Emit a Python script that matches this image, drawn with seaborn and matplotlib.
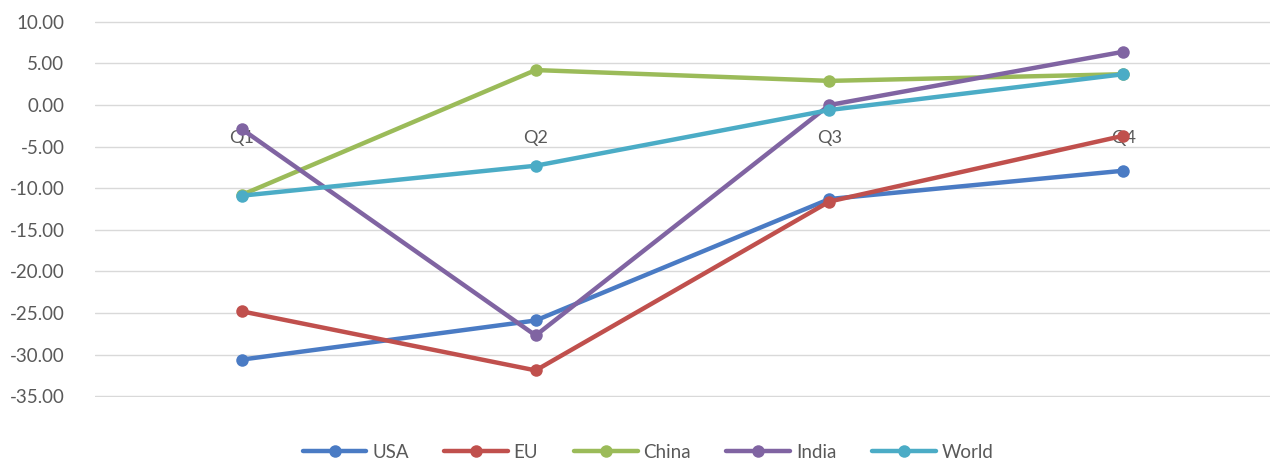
import matplotlib
matplotlib.use("Agg")
import matplotlib.pyplot as plt
import seaborn as sns
import pandas as pd
from matplotlib.lines import Line2D

quarters = ["Q1", "Q2", "Q3", "Q4"]
series_names = ["USA", "EU", "China", "India", "World"]
usa = [-30.6, -25.9, -11.3, -7.9]
eu = [-24.8, -31.9, -11.6, -3.7]
china = [-10.8, 4.2, 2.9, 3.7]
india = [-2.9, -27.7, 0.0, 6.4]
world = [-10.9, -7.3, -0.6, 3.7]
yticks = [10, 5, 0, -5, -10, -15, -20, -25, -30, -35]

colors = ["#4A7BC4", "#C0504D", "#9BBB59", "#8064A2", "#4BACC6"]

values = [usa, eu, china, india, world]
rows = []
for name, vals in zip(series_names, values):
    for i, (q, v) in enumerate(zip(quarters, vals)):
        rows.append({"pos": i, "Quarter": q, "Series": name, "Value": v})
df = pd.DataFrame(rows)

sns.set_theme(style="white")
plt.rcParams["font.family"] = ["Lato", "DejaVu Sans"]

fig = plt.figure(figsize=(12.83, 4.66), dpi=100)
ax = fig.add_axes([0.074, 0.148, 0.916, 0.807])

# category labels drawn at the zero line, beneath the lines
for i, q in enumerate(quarters):
    ax.annotate(q, xy=(i, 0), xytext=(0, -24), textcoords="offset points",
                ha="center", va="center", fontsize=13, color="#595959", zorder=1)

sns.lineplot(data=df, x="pos", y="Value", hue="Series", hue_order=series_names,
             palette=colors, marker="o", markersize=9, markeredgewidth=0,
             linewidth=3.2, ax=ax, legend=False, zorder=3)

ax.set_xlim(-0.5, 3.5)
ax.set_ylim(-35.1, 10.1)
ax.set_yticks(yticks)
ax.set_yticklabels([f"{t:.2f}" for t in yticks], fontsize=13.5, color="#595959")
ax.set_xticks([])
ax.set_xlabel("")
ax.set_ylabel("")
ax.grid(axis="y", color="#D9D9D9", linewidth=1.0)
ax.set_axisbelow(True)
ax.tick_params(axis="y", length=0, pad=22)
for s in ax.spines.values():
    s.set_visible(False)
for l in ax.lines:
    l.set_clip_on(False)

handles = [Line2D([0], [0], color=c, linewidth=3.2, marker="o", markersize=9,
                  markeredgewidth=0) for c in colors]
fig.legend(handles, series_names, loc="center", bbox_to_anchor=(0.505, 0.03),
           ncol=5, frameon=False, fontsize=13.5, handlelength=3.4,
           columnspacing=1.9, handletextpad=0.3, labelcolor="#595959")

fig.savefig("out.png", dpi=100)
